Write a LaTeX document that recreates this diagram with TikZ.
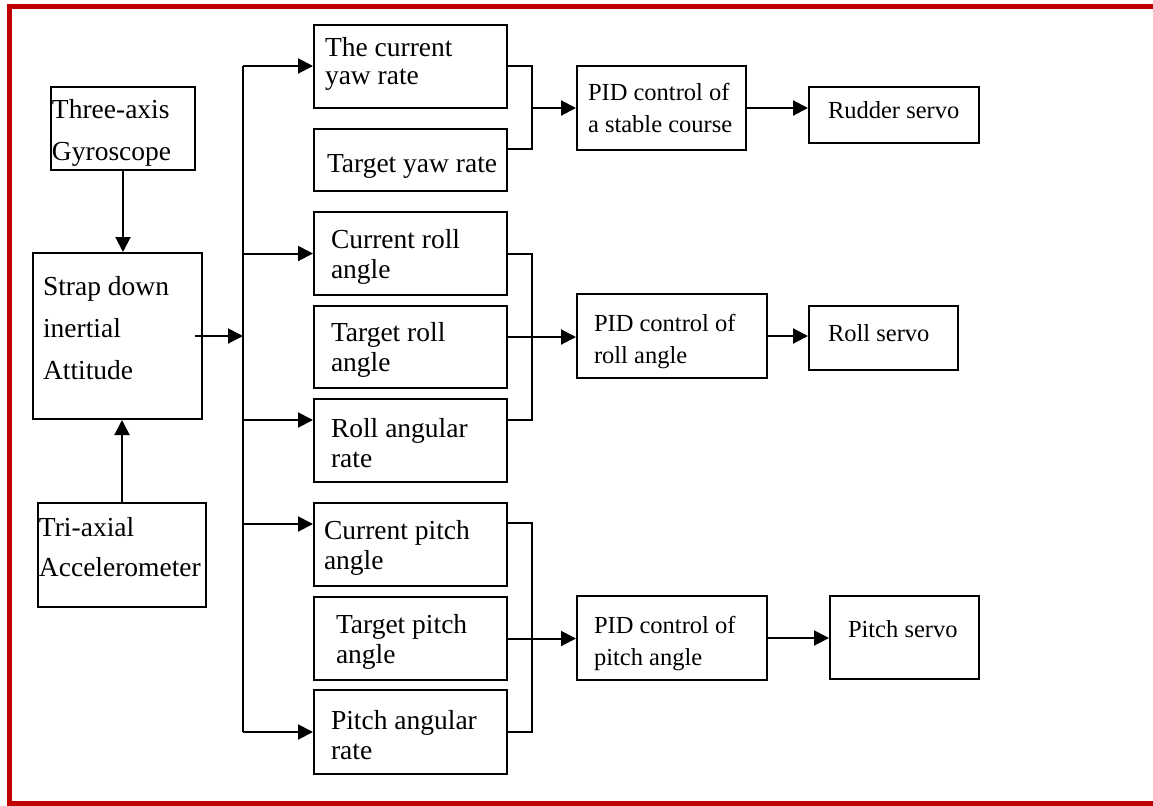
\documentclass[tikz,border=0pt]{standalone}
\usepackage{fontspec}
\setmainfont{Liberation Serif}
\usepackage{xcolor}
\usetikzlibrary{arrows.meta}
\definecolor{framered}{RGB}{192,0,0}
\newcommand{\boxfont}[2]{\fontsize{#1}{#2}\selectfont}
\newcommand{\sensfont}{\boxfont{13.75pt}{21pt}}
\newcommand{\sigfont}{\boxfont{13.75pt}{15pt}}
\newcommand{\ctrlfont}{\boxfont{12.25pt}{16pt}}
\newcommand{\bline}[1]{\mbox{\spaceskip=0.25em\relax #1}}
\newcommand{\twol}[2]{\bline{#1}\\\bline{#2}}
\newcommand{\hgt}[1]{\rule{0pt}{#1}}
\newcommand{\dpt}[1]{\rule[-#1]{0pt}{0pt}}

\begin{document}
\begin{tikzpicture}[x=0.5pt,y=-0.5pt,
  blk/.style={draw=black,line width=1pt,align=left,inner ysep=0pt},
  sens/.style={blk,font=\sensfont},
  sig/.style={blk,font=\sigfont,minimum height=41.5pt},
  ctrl/.style={blk,font=\ctrlfont},
  wire/.style={-,draw=black,line width=1pt},
  arr/.style={-{Triangle[length=7.5pt,width=7.5pt]},draw=black,line width=1pt}]
 \useasboundingbox (0,0) rectangle (1153,805);
 \draw[draw=framered,line width=2.5pt] (1153,6.5) -- (9,6.5) -- (9,803.5) -- (1153,803.5);

 \draw (123,128.5)  node[sens,minimum height=41.5pt,inner xsep=0.5pt,text width=71pt] (GYRO)
              {\twol{\hgt{14.4pt}Three-axis}{Gyroscope}};
 \draw (117.5,336)  node[sens,minimum height=83pt,inner xsep=5pt,text width=74.5pt] (SDI)
              {\twol{Strap down}{inertial}\\\bline{Attitude\dpt{8pt}}};
 \draw (122,555)  node[sens,minimum height=52pt,inner xsep=0.5pt,text width=83pt,font=\boxfont{13.75pt}{20pt}] (ACC)
              {\twol{Tri-axial}{Accelerometer\dpt{8pt}}};

 \draw (410.5,66)  node[sig,inner xsep=5.5pt,text width=85.5pt,font=\boxfont{13.75pt}{14pt}] (CYR)
              {\twol{The current}{yaw rate\dpt{5pt}}};
 \draw (410.5,160)  node[sig,minimum height=31pt,inner xsep=6.5pt,text width=83.5pt] (TYR)
              {\bline{\hgt{15pt}Target yaw rate}};
 \draw (410.5,253.5)  node[sig,inner xsep=8.5pt,text width=79.5pt] (CRA)
              {\twol{\hgt{13.4pt}Current roll}{angle}};
 \draw (410.5,347)  node[sig,minimum height=41pt,inner xsep=8.5pt,text width=79.5pt] (TRA)
              {\twol{\hgt{12.4pt}Target roll}{angle}};
 \draw (410.5,440.5)  node[sig,inner xsep=8.5pt,text width=79.5pt] (RAR)
              {\twol{\hgt{12.4pt}Roll angular}{rate}};
 \draw (410.5,544.5)  node[sig,inner xsep=5pt,text width=86.5pt] (CPA)
              {\twol{\hgt{13.4pt}Current pitch}{angle}};
 \draw (410.5,638.5)  node[sig,inner xsep=11pt,text width=74.5pt] (TPA)
              {\twol{\hgt{13.4pt}Target pitch}{angle}};
 \draw (410.5,732)  node[sig,minimum height=42pt,inner xsep=8.5pt,text width=79.5pt] (PAR)
              {\twol{\hgt{12.4pt}Pitch angular}{rate}};

 \draw (661.5,108)  node[ctrl,minimum height=42pt,inner xsep=5.5pt,text width=73.5pt] (PIDC)
              {\twol{PID control of}{a stable course}};
 \draw (672,336)  node[ctrl,minimum height=42pt,inner xsep=8.5pt,text width=78pt] (PIDR)
              {\twol{\hgt{14.4pt}PID control of}{roll angle}};
 \draw (672,638)  node[ctrl,minimum height=42pt,inner xsep=8.5pt,text width=78pt] (PIDP)
              {\twol{\hgt{14.4pt}PID control of}{pitch angle}};

 \draw (894,115)  node[ctrl,minimum height=28pt,inner xsep=9.5pt,text width=66pt,text depth=5pt] (RUD)
              {\bline{Rudder servo}};
 \draw (883.5,338)  node[ctrl,minimum height=32pt,inner xsep=9.5pt,text width=55.5pt,text depth=5pt] (RSV)
              {\bline{Roll servo}};
 \draw (904.5,637.5)  node[ctrl,minimum height=41.5pt,inner xsep=9pt,text width=56.5pt,text depth=9pt] (PSV)
              {\bline{Pitch servo}};

 \coordinate (BT) at (243,66);
 \coordinate (BB) at (243,732);
 \coordinate (JY) at (532,108);
 \coordinate (JR) at (532,337);
 \coordinate (JP) at (532,637);
 \coordinate (RARin) at ([yshift=10.25pt]RAR.west);
 \coordinate (CPAin) at ([yshift=10.25pt]CPA.west);

 \draw[arr] (GYRO.south) -- (GYRO.south |- SDI.north);
 \draw[arr] (ACC.north) -- (ACC.north |- SDI.south);
 \draw[arr] ([xshift=-4pt]SDI.east) -- (SDI.east -| BT);
 \draw[wire] (BT) -- (BB);

 \draw[arr] (BT) -- (CYR.west);
 \draw[arr] (BT |- CRA.west) -- (CRA.west);
 \draw[arr] (BT |- RARin) -- (RARin);
 \draw[arr] (BT |- CPAin) -- (CPAin);
 \draw[arr] (BB) -- (PAR.west);

 \draw[wire] (CYR.east) -| (JY) |- ([yshift=5.5pt]TYR.east);
 \draw[arr] (JY) -- (PIDC.west);
 \draw[wire] (CRA.east) -| (JR) |- ([yshift=10.25pt]RAR.east);
 \draw[arr] ([yshift=5pt]TRA.east) -- ([yshift=5pt]TRA.east -| PIDR.west);
 \draw[wire] ([yshift=10.75pt]CPA.east) -| (JP) |- (PAR.east);
 \draw[arr] (TPA.east) -- (TPA.east -| PIDP.west);

 \draw[arr] (PIDC.east) -- (PIDC.east -| RUD.west);
 \draw[arr] (PIDR.east) -- (PIDR.east -| RSV.west);
 \draw[arr] (PIDP.east) -- (PIDP.east -| PSV.west);
\end{tikzpicture}
\end{document}
